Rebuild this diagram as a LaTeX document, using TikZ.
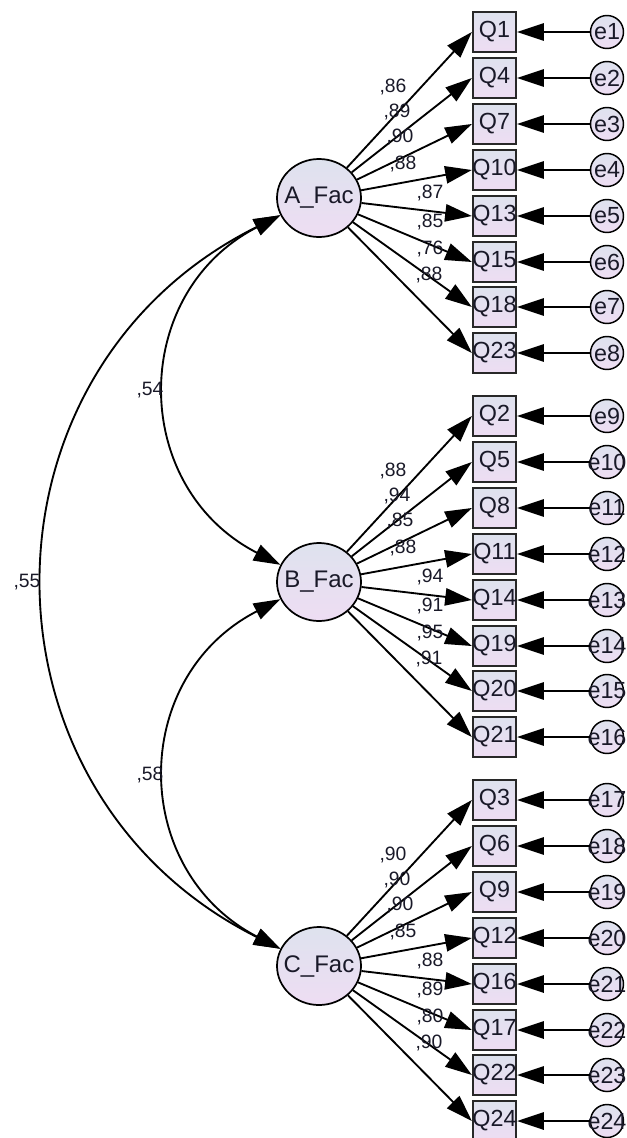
\documentclass[tikz,border=0pt]{standalone}
\usepackage{amsmath}
\usepackage{fontspec}
\setmainfont{Liberation Sans}
\usetikzlibrary{arrows.meta,shapes.geometric}

\definecolor{shadetop}{RGB}{222,226,238}
\definecolor{shadebot}{RGB}{238,221,243}
\definecolor{boxline}{RGB}{40,40,40}
\definecolor{inktext}{RGB}{25,25,40}

\tikzset{
  latent/.style={ellipse, draw=black, line width=1.3pt, minimum width=63pt, minimum height=58.5pt, inner sep=0pt,
    top color=shadetop, bottom color=shadebot, text=inktext, font=\fontsize{18}{20}\selectfont},
  indicator/.style={rectangle, draw=boxline, line width=1.7pt, minimum width=32.25pt, minimum height=30pt, inner sep=0pt,
    top color=shadetop, bottom color=shadebot, text=inktext, font=\fontsize{17.5}{19}\selectfont},
  errterm/.style={circle, draw=black, line width=1.1pt, minimum size=24.75pt, inner sep=0pt,
    top color=shadetop, bottom color=shadebot, text=inktext, font=\fontsize{17.5}{19}\selectfont},
  loading/.style={inner sep=0pt, text=inktext, font=\fontsize{14.5}{16}\selectfont},
  loadarrow/.style={-{Triangle[length=20pt,width=13pt]}, line width=1.4pt},
  covarrow/.style={{Triangle[length=20pt,width=13pt]}-{Triangle[length=20pt,width=13pt]}, line width=1.4pt}
}

\begin{document}
\begin{tikzpicture}[x=0.75pt,y=0.75pt,yscale=-1,xscale=1]
\useasboundingbox (0,0) rectangle (627,1138);

%Shape: Ellipse [factors]
\node [latent] (A) at (319,198) {\makebox[0pt]{A\_Fac}};
\node [latent] (B) at (319,582) {\makebox[0pt]{B\_Fac}};
\node [latent] (C) at (319,966) {\makebox[0pt]{C\_Fac}};

%Shape: Rectangle [items of A_Fac]
\node [indicator] (q1) at (494.5,32) {\makebox[0pt]{Q1}};
\node [indicator] (q4) at (494.5,78) {\makebox[0pt]{Q4}};
\node [indicator] (q7) at (494.5,124) {\makebox[0pt]{Q7}};
\node [indicator] (q10) at (494.5,170) {\makebox[0pt]{Q10}};
\node [indicator] (q13) at (494.5,216) {\makebox[0pt]{Q13}};
\node [indicator] (q15) at (494.5,262) {\makebox[0pt]{Q15}};
\node [indicator] (q18) at (494.5,307) {\makebox[0pt]{Q18}};
\node [indicator] (q23) at (494.5,353) {\makebox[0pt]{Q23}};
%Shape: Rectangle [items of B_Fac]
\node [indicator] (q2) at (494.5,416) {\makebox[0pt]{Q2}};
\node [indicator] (q5) at (494.5,462) {\makebox[0pt]{Q5}};
\node [indicator] (q8) at (494.5,508) {\makebox[0pt]{Q8}};
\node [indicator] (q11) at (494.5,554) {\makebox[0pt]{Q11}};
\node [indicator] (q14) at (494.5,600) {\makebox[0pt]{Q14}};
\node [indicator] (q19) at (494.5,646) {\makebox[0pt]{Q19}};
\node [indicator] (q20) at (494.5,691) {\makebox[0pt]{Q20}};
\node [indicator] (q21) at (494.5,737) {\makebox[0pt]{Q21}};
%Shape: Rectangle [items of C_Fac]
\node [indicator] (q3) at (494.5,800) {\makebox[0pt]{Q3}};
\node [indicator] (q6) at (494.5,846) {\makebox[0pt]{Q6}};
\node [indicator] (q9) at (494.5,892) {\makebox[0pt]{Q9}};
\node [indicator] (q12) at (494.5,938) {\makebox[0pt]{Q12}};
\node [indicator] (q16) at (494.5,984) {\makebox[0pt]{Q16}};
\node [indicator] (q17) at (494.5,1030) {\makebox[0pt]{Q17}};
\node [indicator] (q22) at (494.5,1075) {\makebox[0pt]{Q22}};
\node [indicator] (q24) at (494.5,1121) {\makebox[0pt]{Q24}};

%Shape: Circle [error terms]
\node [errterm] (e1) at (607,32) {\makebox[0pt]{e1}};
\node [errterm] (e2) at (607,78) {\makebox[0pt]{e2}};
\node [errterm] (e3) at (607,124) {\makebox[0pt]{e3}};
\node [errterm] (e4) at (607,170) {\makebox[0pt]{e4}};
\node [errterm] (e5) at (607,216) {\makebox[0pt]{e5}};
\node [errterm] (e6) at (607,262) {\makebox[0pt]{e6}};
\node [errterm] (e7) at (607,307) {\makebox[0pt]{e7}};
\node [errterm] (e8) at (607,353) {\makebox[0pt]{e8}};
\node [errterm] (e9) at (607,416) {\makebox[0pt]{e9}};
\node [errterm] (e10) at (607,462) {\makebox[0pt]{e10}};
\node [errterm] (e11) at (607,508) {\makebox[0pt]{e11}};
\node [errterm] (e12) at (607,554) {\makebox[0pt]{e12}};
\node [errterm] (e13) at (607,600) {\makebox[0pt]{e13}};
\node [errterm] (e14) at (607,646) {\makebox[0pt]{e14}};
\node [errterm] (e15) at (607,691) {\makebox[0pt]{e15}};
\node [errterm] (e16) at (607,737) {\makebox[0pt]{e16}};
\node [errterm] (e17) at (607,800) {\makebox[0pt]{e17}};
\node [errterm] (e18) at (607,846) {\makebox[0pt]{e18}};
\node [errterm] (e19) at (607,892) {\makebox[0pt]{e19}};
\node [errterm] (e20) at (607,938) {\makebox[0pt]{e20}};
\node [errterm] (e21) at (607,984) {\makebox[0pt]{e21}};
\node [errterm] (e22) at (607,1030) {\makebox[0pt]{e22}};
\node [errterm] (e23) at (607,1075) {\makebox[0pt]{e23}};
\node [errterm] (e24) at (607,1121) {\makebox[0pt]{e24}};

%Straight Lines [loadings]
\draw [loadarrow] (A) -- (q1.west);
\draw [loadarrow] (A) -- (q4.west);
\draw [loadarrow] (A) -- (q7.west);
\draw [loadarrow] (A) -- (q10.west);
\draw [loadarrow] (A) -- (q13.west);
\draw [loadarrow] (A) -- (q15.west);
\draw [loadarrow] (A) -- (q18.west);
\draw [loadarrow] (A) -- (q23.west);
\draw [loadarrow] (B) -- (q2.west);
\draw [loadarrow] (B) -- (q5.west);
\draw [loadarrow] (B) -- (q8.west);
\draw [loadarrow] (B) -- (q11.west);
\draw [loadarrow] (B) -- (q14.west);
\draw [loadarrow] (B) -- (q19.west);
\draw [loadarrow] (B) -- (q20.west);
\draw [loadarrow] (B) -- (q21.west);
\draw [loadarrow] (C) -- (q3.west);
\draw [loadarrow] (C) -- (q6.west);
\draw [loadarrow] (C) -- (q9.west);
\draw [loadarrow] (C) -- (q12.west);
\draw [loadarrow] (C) -- (q16.west);
\draw [loadarrow] (C) -- (q17.west);
\draw [loadarrow] (C) -- (q22.west);
\draw [loadarrow] (C) -- (q24.west);

%Straight Lines [errors]
\draw [loadarrow] (e1) -- (q1.east);
\draw [loadarrow] (e2) -- (q4.east);
\draw [loadarrow] (e3) -- (q7.east);
\draw [loadarrow] (e4) -- (q10.east);
\draw [loadarrow] (e5) -- (q13.east);
\draw [loadarrow] (e6) -- (q15.east);
\draw [loadarrow] (e7) -- (q18.east);
\draw [loadarrow] (e8) -- (q23.east);
\draw [loadarrow] (e9) -- (q2.east);
\draw [loadarrow] (e10) -- (q5.east);
\draw [loadarrow] (e11) -- (q8.east);
\draw [loadarrow] (e12) -- (q11.east);
\draw [loadarrow] (e13) -- (q14.east);
\draw [loadarrow] (e14) -- (q19.east);
\draw [loadarrow] (e15) -- (q20.east);
\draw [loadarrow] (e16) -- (q21.east);
\draw [loadarrow] (e17) -- (q3.east);
\draw [loadarrow] (e18) -- (q6.east);
\draw [loadarrow] (e19) -- (q9.east);
\draw [loadarrow] (e20) -- (q12.east);
\draw [loadarrow] (e21) -- (q16.east);
\draw [loadarrow] (e22) -- (q17.east);
\draw [loadarrow] (e23) -- (q22.east);
\draw [loadarrow] (e24) -- (q24.east);

%Curve Lines [covariances]
\draw [covarrow] (A.204) .. controls (129,293) and (129,487) .. (B.156);
\draw [covarrow] (B.204) .. controls (129,677) and (129,870) .. (C.156);
\draw [covarrow] (A.204) .. controls (-33,371) and (-33,792) .. (C.156);

% Text Node [correlations]
\node [loading] (rab) at (150,390) {,54};
\node [loading] (rbc) at (150,775) {,58};
\node [loading] (rac) at (27,582) {,55};

% Text Node [loadings of A_Fac]
\node [loading] (l1) at (393,87) {,86};
\node [loading] (l4) at (397,112) {,89};
\node [loading] (l7) at (400,137) {,90};
\node [loading] (l10) at (403,164) {,88};
\node [loading] (l13) at (430,193) {,87};
\node [loading] (l15) at (430,222) {,85};
\node [loading] (l18) at (430,249) {,76};
\node [loading] (l23) at (429,275) {,88};
% Text Node [loadings of B_Fac]
\node [loading] (l2) at (393,471) {,88};
\node [loading] (l5) at (397,496) {,94};
\node [loading] (l8) at (400,521) {,85};
\node [loading] (l11) at (403,548) {,88};
\node [loading] (l14) at (430,577) {,94};
\node [loading] (l19) at (430,606) {,91};
\node [loading] (l20) at (430,633) {,95};
\node [loading] (l21) at (429,659) {,91};
% Text Node [loadings of C_Fac]
\node [loading] (l3) at (393,855) {,90};
\node [loading] (l6) at (397,880) {,90};
\node [loading] (l9) at (400,905) {,90};
\node [loading] (l12) at (403,932) {,85};
\node [loading] (l16) at (430,961) {,88};
\node [loading] (l17) at (430,990) {,89};
\node [loading] (l22) at (430,1017) {,80};
\node [loading] (l24) at (429,1043) {,90};
\end{tikzpicture}
\end{document}
